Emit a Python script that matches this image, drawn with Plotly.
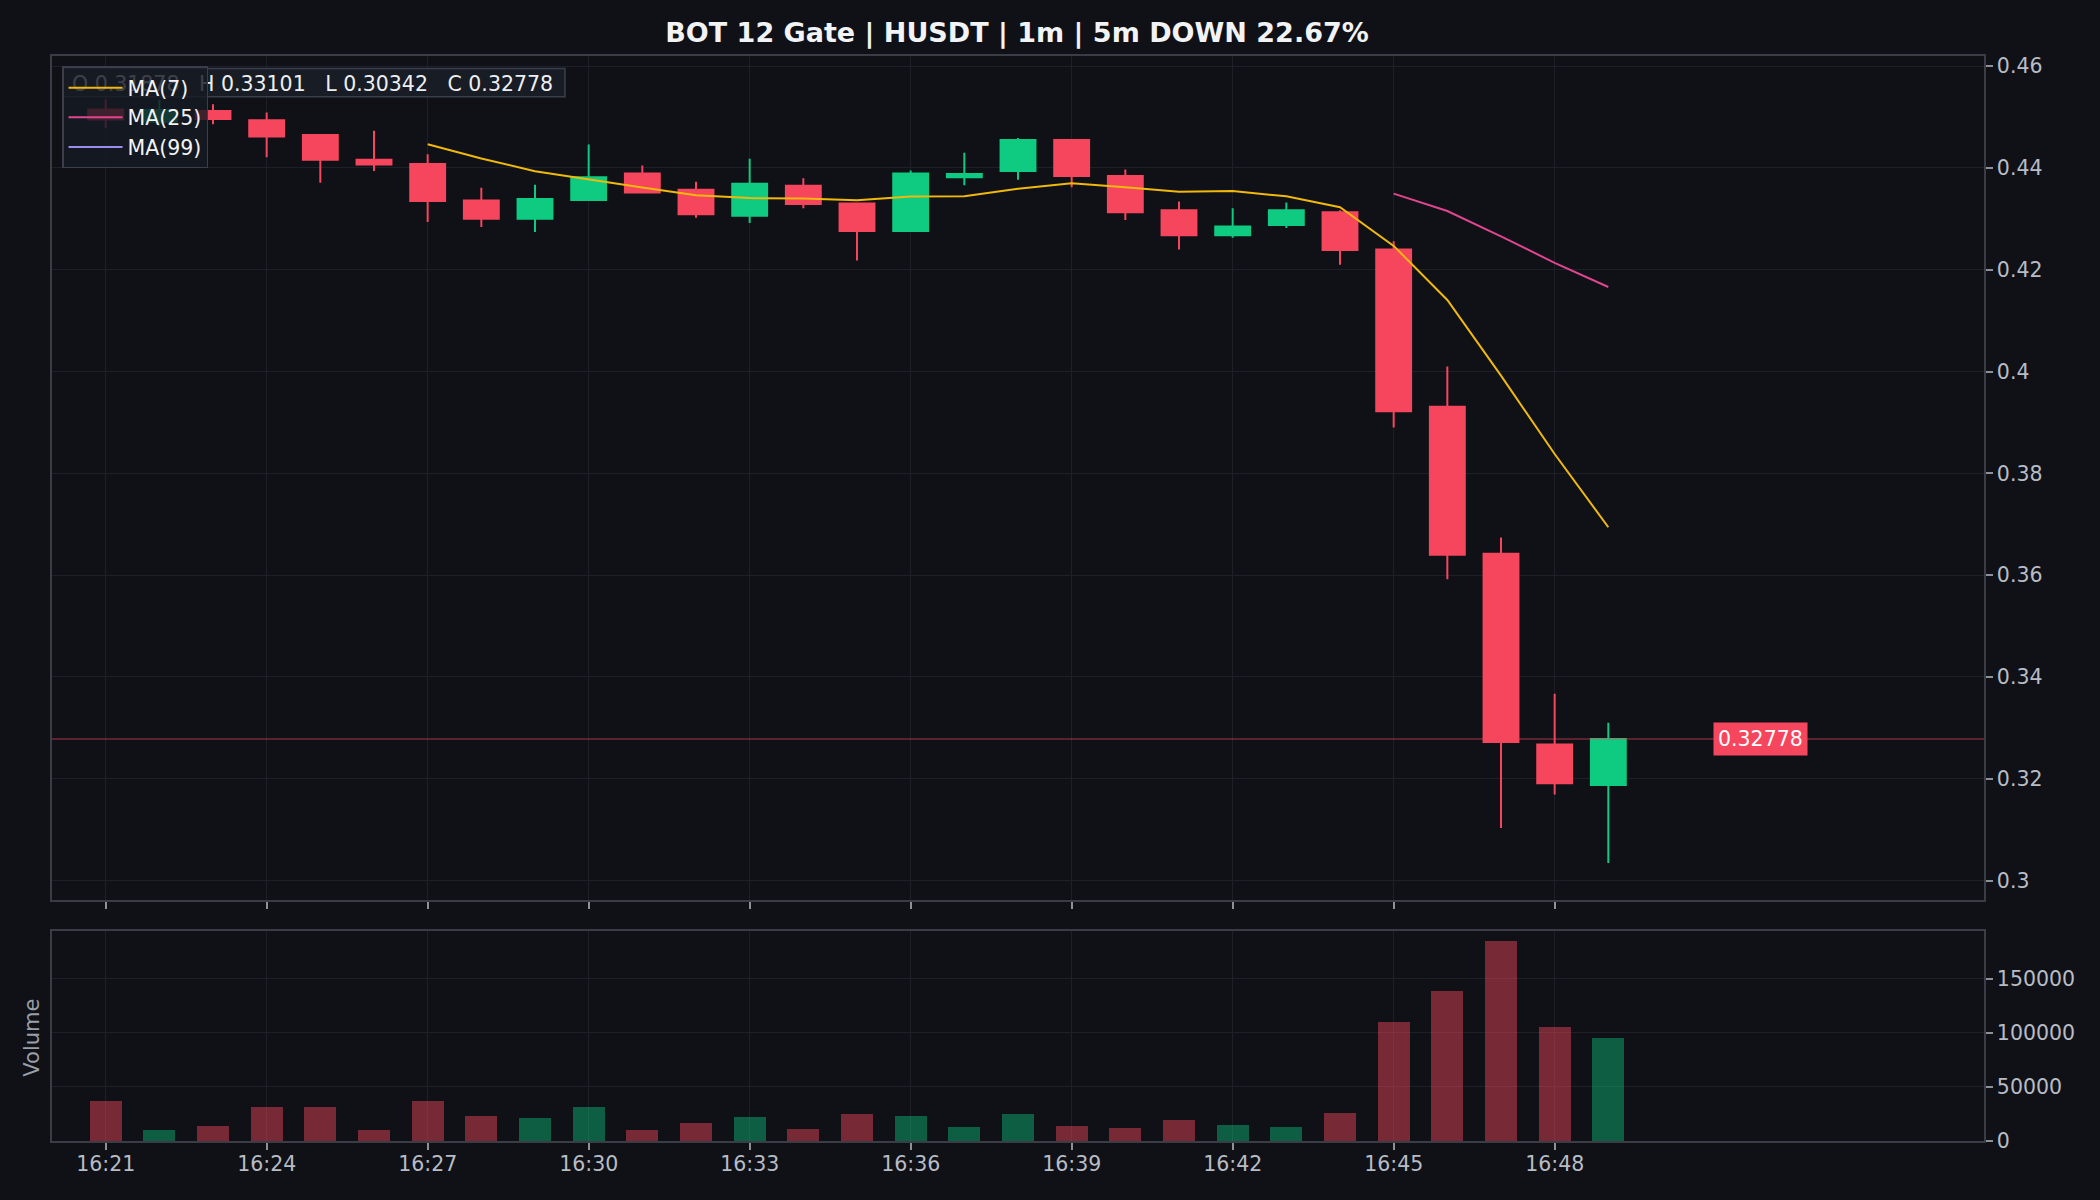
import pandas as pd
import plotly.graph_objects as go

# ---------------- data ----------------
day = "2024-01-01 "
times = ["16:21", "16:22", "16:23", "16:24", "16:25", "16:26", "16:27", "16:28", "16:29", "16:30",
         "16:31", "16:32", "16:33", "16:34", "16:35", "16:36", "16:37", "16:38", "16:39", "16:40",
         "16:41", "16:42", "16:43", "16:44", "16:45", "16:46", "16:47", "16:48", "16:49"]
opens = [0.4515, 0.4491, 0.4512, 0.4494, 0.4465, 0.4416, 0.4408, 0.4336, 0.4300, 0.4337,
         0.4389, 0.4357, 0.4306, 0.4365, 0.4330, 0.4276, 0.4382, 0.4394, 0.4455, 0.4384,
         0.4317, 0.4268, 0.4288, 0.4313, 0.4240, 0.3931, 0.3642, 0.3267, 0.31878]
highs = [0.4535, 0.4534, 0.4525, 0.4509, 0.4466, 0.4473, 0.4427, 0.4361, 0.4367, 0.4446,
         0.4405, 0.4373, 0.4418, 0.4380, 0.4330, 0.4395, 0.4430, 0.4459, 0.4456, 0.4397,
         0.4334, 0.4321, 0.4332, 0.4317, 0.4256, 0.4010, 0.3674, 0.3367, 0.33101]
lows = [0.4478, 0.4481, 0.4486, 0.4421, 0.4371, 0.4394, 0.4294, 0.4284, 0.4274, 0.4336,
        0.4350, 0.4302, 0.4292, 0.4321, 0.4218, 0.4276, 0.4366, 0.4377, 0.4362, 0.4298,
        0.4240, 0.4263, 0.4282, 0.4210, 0.3890, 0.3592, 0.3103, 0.3169, 0.30342]
closes = [0.4495, 0.4514, 0.4496, 0.4462, 0.4416, 0.4407, 0.4335, 0.4300, 0.4339, 0.4382,
          0.4352, 0.4309, 0.4369, 0.4329, 0.4276, 0.4389, 0.4388, 0.4455, 0.4384, 0.4313,
          0.4268, 0.4285, 0.4317, 0.4239, 0.3922, 0.3640, 0.3272, 0.3191, 0.32778]
volumes = [36700, 10500, 14200, 31700, 31700, 10500, 37300, 23400, 21600, 31700,
           10500, 16900, 22500, 11400, 25300, 23400, 13300, 25300, 14200, 12300,
           19700, 15100, 13300, 26200, 110300, 138900, 185100, 105700, 95500]
x_tick_labels = ["16:21", "16:24", "16:27", "16:30", "16:33", "16:36", "16:39", "16:42", "16:45", "16:48"]
price_tick_vals = [0.30, 0.32, 0.34, 0.36, 0.38, 0.40, 0.42, 0.44, 0.46]
price_tick_text = ["0.3", "0.32", "0.34", "0.36", "0.38", "0.4", "0.42", "0.44", "0.46"]
vol_tick_vals = [0, 50000, 100000, 150000]
vol_tick_text = ["0", "50000", "100000", "150000"]
ma_periods = [7, 25, 99]
title_text = "BOT 12 Gate | HUSDT | 1m | 5m DOWN 22.67%"

# ---------------- styling ----------------
BG = "#0f1117"
GRID = "#1d2028"
BORDER = "#3a3d46"
TICKC = "#b8bcc4"
UP = "#0ecb81"
DOWN = "#f6465d"
UP_VOL = "rgba(14,203,129,0.42)"
DOWN_VOL = "rgba(246,70,93,0.45)"
MA_COLORS = {7: "#f0b90b", 25: "#e0468f", 99: "#9d8cf0"}
FONT = "DejaVu Sans"
TICK_SIZE = 20.5

x = pd.to_datetime([day + t for t in times])
close_s = pd.Series(closes)

fig = go.Figure()

fig.add_trace(go.Candlestick(
    x=x, open=opens, high=highs, low=lows, close=closes,
    increasing=dict(line=dict(color=UP, width=2), fillcolor=UP),
    decreasing=dict(line=dict(color=DOWN, width=2), fillcolor=DOWN),
    whiskerwidth=0, showlegend=False, xaxis="x", yaxis="y", name="HUSDT"))

for p in ma_periods:
    ma = close_s.rolling(p).mean()
    yvals = [None if pd.isna(v) else v for v in ma]
    fig.add_trace(go.Scatter(
        x=x, y=yvals, mode="lines", name=f"MA({p})",
        line=dict(color=MA_COLORS[p], width=2), xaxis="x", yaxis="y",
        connectgaps=False))

vol_colors = [UP_VOL if c >= o else DOWN_VOL for o, c in zip(opens, closes)]
fig.add_trace(go.Bar(
    x=x, y=volumes, marker=dict(color=vol_colors, line=dict(width=0)),
    width=0.6 * 60 * 1000, showlegend=False, xaxis="x2", yaxis="y2", name="Volume"))

x_range = [pd.Timestamp(day + "16:20"), pd.Timestamp(day + "16:56")]
tick_vals = [pd.Timestamp(day + t) for t in x_tick_labels]

axis_common = dict(showline=True, linecolor=BORDER, linewidth=1.5, mirror=True,
                   gridcolor=GRID, gridwidth=1, zeroline=False,
                   ticks="outside", ticklen=7, tickwidth=1.5, tickcolor="#8d9199",
                   tickfont=dict(family=FONT, size=TICK_SIZE, color=TICKC))

fig.update_layout(
    width=2100, height=1200,
    paper_bgcolor=BG, plot_bgcolor=BG,
    margin=dict(l=52, r=116, t=56, b=59),
    font=dict(family=FONT, color=TICKC),
    title=dict(text=f"<b>{title_text}</b>", x=0.4843, xanchor="center",
               y=1 - 33 / 1200, yanchor="middle",
               font=dict(family=FONT, size=27, color="#f2f3f5")),
    xaxis=dict(domain=[0, 1], type="date", range=x_range, tickvals=tick_vals,
               ticktext=x_tick_labels, showticklabels=False, anchor="y",
               rangeslider=dict(visible=False), **axis_common),
    yaxis=dict(domain=[0.2218, 1], range=[0.2961, 0.4620], side="right",
               tickvals=price_tick_vals, ticktext=price_tick_text, anchor="x", **axis_common),
    xaxis2=dict(domain=[0, 1], type="date", range=x_range, tickvals=tick_vals,
                ticktext=x_tick_labels, matches="x", anchor="y2",
                ticklabelstandoff=-3, **axis_common),
    yaxis2=dict(domain=[0, 0.1937], range=[0, 194400], side="right",
                tickvals=vol_tick_vals, ticktext=vol_tick_text, anchor="x2", **axis_common),
    boxgap=0.35, boxgroupgap=0,
    showlegend=True,
    legend=dict(x=0.0052, y=0.9905, xanchor="left", yanchor="top",
                bgcolor="rgba(22,26,34,0.82)", bordercolor="#3a3f4b", borderwidth=1.5,
                font=dict(family=FONT, size=20.5, color="#f2f3f5"),
                itemwidth=54, tracegroupgap=0),
    bargap=0,
)

# last price line + label
last = closes[-1]
fig.add_shape(type="line", xref="x domain", yref="y", x0=0, x1=1, y0=last, y1=last,
              line=dict(color="rgba(246,70,93,0.45)", width=1.5), layer="above")
fig.add_annotation(x=pd.Timestamp(day + "16:51:50"), y=last, xref="x", yref="y",
                   text=f"{last:.5f}", showarrow=False, bgcolor=DOWN, borderpad=4,
                   font=dict(family=FONT, size=20.5, color="white"))

# OHLC info box
sp = "\u00a0" * 3
ohlc_text = (f"O\u00a0{opens[-1]:.5f}{sp}H\u00a0{highs[-1]:.5f}{sp}"
             f"L\u00a0{lows[-1]:.5f}{sp}C\u00a0{closes[-1]:.5f}")
fig.add_shape(type="rect", xref="paper", yref="paper",
              x0=0.0057, x1=0.2655, y0=0.9625, y1=0.9885,
              fillcolor="rgba(26,30,38,0.9)", line=dict(color="#3a3f4b", width=1.5),
              layer="above",
              label=dict(text=ohlc_text, textposition="middle left", padding=6,
                         font=dict(family=FONT, size=20.5, color="#eceef2")))

# volume axis title on left
fig.add_annotation(x=-0.0105, y=0.095, xref="paper", yref="paper", text="Volume",
                   textangle=-90, showarrow=False, xanchor="center", yanchor="middle",
                   font=dict(family=FONT, size=21, color="#9a9ea6"))

fig.write_html("out.html")
